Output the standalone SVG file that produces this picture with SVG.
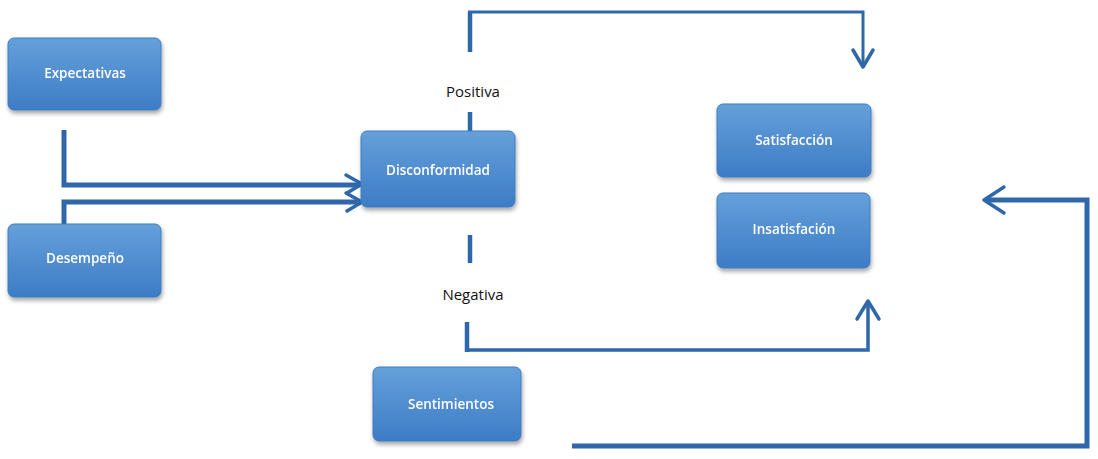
<svg xmlns="http://www.w3.org/2000/svg" width="1098" height="459" viewBox="0 0 1098 459">
<style>
.box{fill:url(#g);stroke:#3f7cc0;stroke-width:1}
.t{font-family:"Open Sans","Liberation Sans",sans-serif;font-size:13.5px;font-weight:600;fill:#ffffff;text-anchor:middle}
.lbl{font-family:"Open Sans","Liberation Sans",sans-serif;font-size:15px;font-weight:500;fill:#111111;text-anchor:middle}
.ln{fill:none;stroke:#2e67aa;stroke-linejoin:miter;stroke-linecap:butt}
.ah{fill:none;stroke:#2e67aa;stroke-width:3.5;stroke-linecap:round;stroke-linejoin:round}
</style>
<defs>
<linearGradient id="g" x1="0" y1="0" x2="0" y2="1">
<stop offset="0" stop-color="#65a0da"/>
<stop offset="1" stop-color="#3d7cc6"/>
</linearGradient>
<filter id="sh" x="-10%" y="-10%" width="125%" height="130%">
<feDropShadow dx="1" dy="3" stdDeviation="2" flood-color="#000000" flood-opacity="0.35"/>
</filter>
</defs>
<rect width="1098" height="459" fill="#ffffff"/>
<g id="connectors">
<path class="ln" stroke-width="5" d="M64 130 V185 H358"/>
<path class="ln" stroke-width="5" d="M64 244 V202 H358"/>
<path class="ah" d="M346 175 L362 184 L347 193"/>
<path class="ah" d="M346 193 L362 202 L347 211"/>
<path class="ln" stroke-width="4.5" d="M470 52 V12"/>
<path class="ln" stroke-width="3" d="M468 12 H863 V66"/>
<path class="ah" d="M853 50 L863 67 L873 50"/>
<path class="ln" stroke-width="4.5" d="M470 112 V146"/>
<path class="ln" stroke-width="4.5" d="M470 235 V263"/>
<path class="ln" stroke-width="4.5" d="M467 322 V352"/>
<path class="ln" stroke-width="3.5" d="M465 350 H868 V302"/>
<path class="ah" d="M857 319 L868 301 L879 319"/>
<path class="ln" stroke-width="5" d="M572 446 H1087 V200 H986"/>
<path class="ah" d="M1004 187 L984 200 L1004 213"/>
</g>
<g id="expectativas" filter="url(#sh)">
<rect class="box" x="8" y="38" width="153" height="72" rx="6"/>
<text class="t" x="85" y="78">Expectativas</text>
</g>
<g id="desempeno" filter="url(#sh)">
<rect class="box" x="8" y="224" width="153" height="73" rx="6"/>
<text class="t" x="85" y="263">Desempeño</text>
</g>
<g id="disconformidad" filter="url(#sh)">
<rect class="box" x="361" y="131" width="154" height="76" rx="6"/>
<text class="t" x="438" y="175">Disconformidad</text>
</g>
<g id="satisfaccion" filter="url(#sh)">
<rect class="box" x="717" y="104" width="154" height="73" rx="6"/>
<text class="t" x="794" y="145">Satisfacción</text>
</g>
<g id="insatisfacion" filter="url(#sh)">
<rect class="box" x="717" y="193" width="153" height="75" rx="6"/>
<text class="t" x="794" y="234">Insatisfación</text>
</g>
<g id="sentimientos" filter="url(#sh)">
<rect class="box" x="373" y="367" width="148" height="74" rx="6"/>
<text class="t" x="451" y="409">Sentimientos</text>
</g>
<g id="labels">
<text class="lbl" x="473" y="97">Positiva</text>
<text class="lbl" x="473" y="300">Negativa</text>
</g>
</svg>
